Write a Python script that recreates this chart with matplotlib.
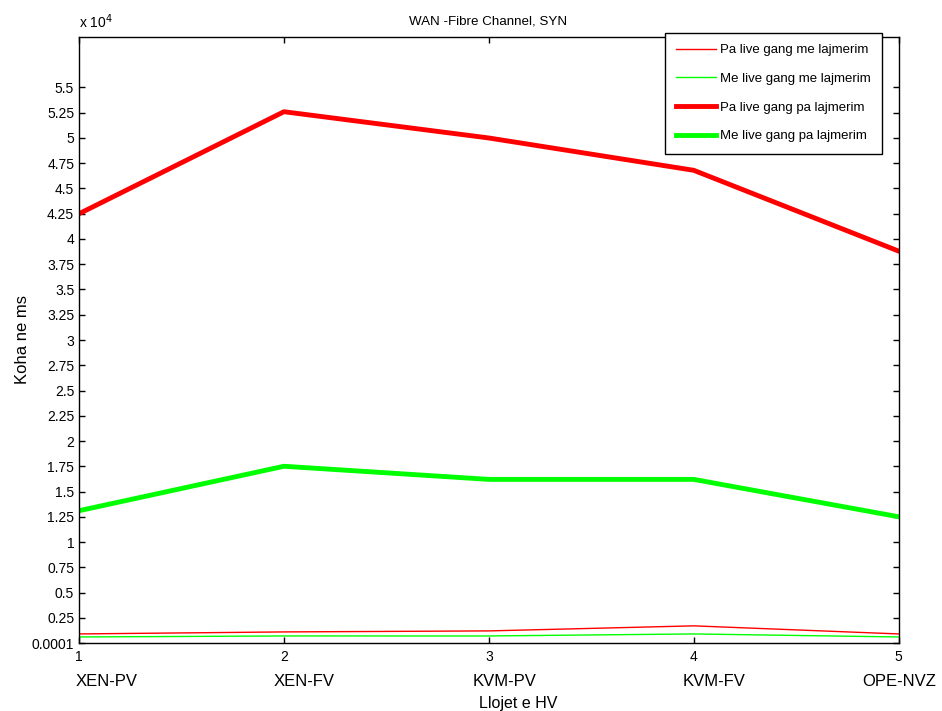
import numpy as np
import matplotlib.pyplot as plt

plt.rcParams['font.family'] = ['Liberation Sans', 'DejaVu Sans']

# data
x = [1, 2, 3, 4, 5]
hv_types = ['XEN-PV', 'XEN-FV', 'KVM-PV', 'KVM-FV', 'OPE-NVZ']
pa_me = [900, 1100, 1200, 1700, 900]
me_me = [600, 700, 700, 900, 600]
pa_pa = [42500, 52600, 50000, 46800, 38800]
me_pa = [13100, 17500, 16200, 16200, 12500]

ytick_vals = [1] + [2500 * i for i in range(1, 23)]
ytick_labels = ['0.0001'] + ['%g' % (v / 1e4) for v in ytick_vals[1:]]

# left edges of the category names (they sit a bit off the ticks in the original)
name_shift = [-0.015, -0.049, -0.078, -0.054, -0.176]

fig = plt.figure(figsize=(9.42, 7.11), dpi=100)
ax = fig.add_axes([0.0839, 0.0956, 0.8701, 0.8524])

ax.plot(x, pa_me, color='#ff0000', lw=1.0, label='Pa live gang me lajmerim')
ax.plot(x, me_me, color='#00ff00', lw=1.0, label='Me live gang me lajmerim')
ax.plot(x, pa_pa, color='#ff0000', lw=3.5, label='Pa live gang pa lajmerim')
ax.plot(x, me_pa, color='#00ff00', lw=3.5, label='Me live gang pa lajmerim')

ax.set_xlim(1, 5)
ax.set_ylim(0, 60000)
ax.set_xticks(x)
ax.set_yticks(ytick_vals)
ax.set_yticklabels(ytick_labels)
ax.tick_params(direction='in', top=True, right=True, labelsize=10, length=4, width=1)
ax.tick_params(axis='x', pad=5)
for s in ax.spines.values():
    s.set_linewidth(1)

# category names under the numeric ticks
for xi, dx, name in zip(x, name_shift, hv_types):
    ax.text(xi + dx, -0.063, name, transform=ax.get_xaxis_transform(),
            ha='left', va='center', fontsize=12)

fig.text(0.55, 0.011, 'Llojet e HV', ha='center', va='center', fontsize=11.5)
fig.text(0.0235, 0.522, 'Koha ne ms', ha='center', va='center', rotation=90, fontsize=12)
fig.text(0.518, 0.97, 'WAN -Fibre Channel, SYN', ha='center', va='center', fontsize=9.6)
fig.text(0.084, 0.9606, r'x 10$^4$', ha='left', va='baseline', fontsize=10)

leg = ax.legend(loc='upper right', bbox_to_anchor=(0.936, 0.954),
                bbox_transform=fig.transFigure, fontsize=9.5, fancybox=False,
                framealpha=1, edgecolor='black', handlelength=3.0,
                handletextpad=0.3, labelspacing=1.25, borderpad=0.85,
                borderaxespad=0)
leg.get_frame().set_linewidth(1)

fig.savefig('out.png', dpi=100)
